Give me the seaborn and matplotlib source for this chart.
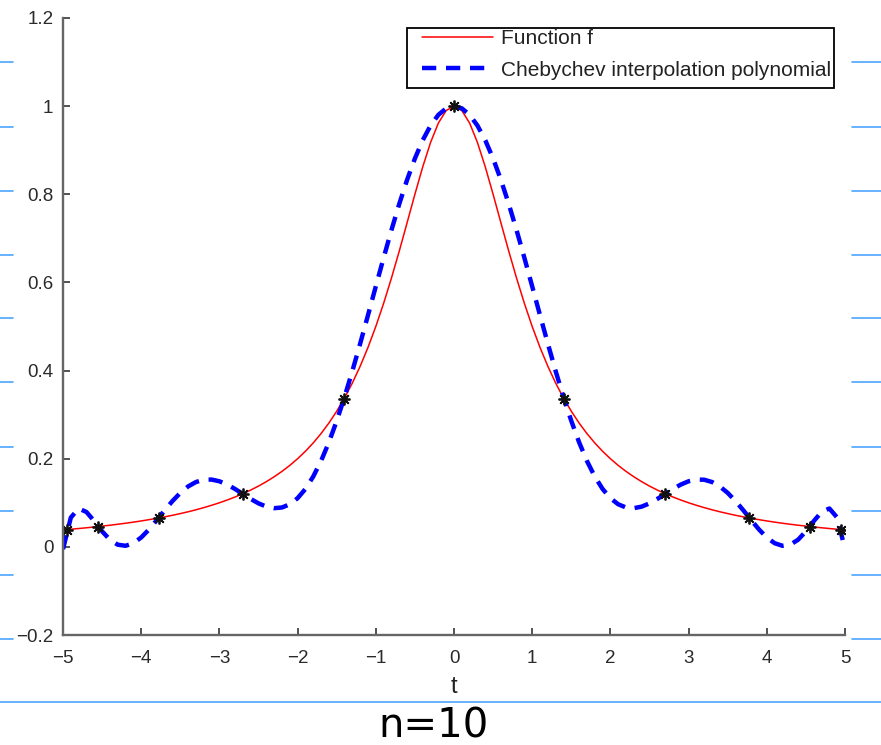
import numpy as np
import pandas as pd
import matplotlib
matplotlib.use("Agg")
import matplotlib.pyplot as plt
from matplotlib.lines import Line2D
from matplotlib.patches import Rectangle
import seaborn as sns

# sample positions on [-5, 5]
t = [-5.0, -4.9, -4.8, -4.7, -4.6, -4.5, -4.4, -4.3, -4.2, -4.1,
     -4.0, -3.9, -3.8, -3.7, -3.6, -3.5, -3.4, -3.3, -3.2, -3.1,
     -3.0, -2.9, -2.8, -2.7, -2.6, -2.5, -2.4, -2.3, -2.2, -2.1,
     -2.0, -1.9, -1.8, -1.7, -1.6, -1.5, -1.4, -1.3, -1.2, -1.1,
     -1.0, -0.9, -0.8, -0.7, -0.6, -0.5, -0.4, -0.3, -0.2, -0.1,
     0.0, 0.1, 0.2, 0.3, 0.4, 0.5, 0.6, 0.7, 0.8, 0.9,
     1.0, 1.1, 1.2, 1.3, 1.4, 1.5, 1.6, 1.7, 1.8, 1.9,
     2.0, 2.1, 2.2, 2.3, 2.4, 2.5, 2.6, 2.7, 2.8, 2.9,
     3.0, 3.1, 3.2, 3.3, 3.4, 3.5, 3.6, 3.7, 3.8, 3.9,
     4.0, 4.1, 4.2, 4.3, 4.4, 4.5, 4.6, 4.7, 4.8, 4.9, 5.0]

# function f
f_vals = [0.0385, 0.0400, 0.0416, 0.0433, 0.0451, 0.0471, 0.0491, 0.0513, 0.0536, 0.0561,
          0.0588, 0.0617, 0.0648, 0.0681, 0.0716, 0.0755, 0.0796, 0.0841, 0.0890, 0.0943,
          0.1000, 0.1063, 0.1131, 0.1206, 0.1289, 0.1379, 0.1479, 0.1590, 0.1712, 0.1848,
          0.2000, 0.2169, 0.2358, 0.2571, 0.2809, 0.3077, 0.3378, 0.3717, 0.4098, 0.4525,
          0.5000, 0.5525, 0.6098, 0.6711, 0.7353, 0.8000, 0.8621, 0.9174, 0.9615, 0.9901,
          1.0000,
          0.9901, 0.9615, 0.9174, 0.8621, 0.8000, 0.7353, 0.6711, 0.6098, 0.5525, 0.5000,
          0.4525, 0.4098, 0.3717, 0.3378, 0.3077, 0.2809, 0.2571, 0.2358, 0.2169, 0.2000,
          0.1848, 0.1712, 0.1590, 0.1479, 0.1379, 0.1289, 0.1206, 0.1131, 0.1063, 0.1000,
          0.0943, 0.0890, 0.0841, 0.0796, 0.0755, 0.0716, 0.0681, 0.0648, 0.0617, 0.0588,
          0.0561, 0.0536, 0.0513, 0.0491, 0.0471, 0.0451, 0.0433, 0.0416, 0.0400, 0.0385]

# Chebychev interpolation polynomial (n = 10)
p_vals = [-0.0053, 0.0664, 0.0871, 0.0791, 0.0583, 0.0352, 0.0162, 0.0049, 0.0024, 0.0083,
          0.0213, 0.0395, 0.0608, 0.0829, 0.1040, 0.1224, 0.1371, 0.1471, 0.1523, 0.1527,
          0.1488, 0.1413, 0.1313, 0.1200, 0.1087, 0.0987, 0.0913, 0.0878, 0.0893, 0.0966,
          0.1105, 0.1314, 0.1596, 0.1949, 0.2372, 0.2858, 0.3400, 0.3988, 0.4611, 0.5256,
          0.5910, 0.6559, 0.7187, 0.7781, 0.8327, 0.8812, 0.9226, 0.9559, 0.9802, 0.9950,
          1.0000,
          0.9950, 0.9802, 0.9559, 0.9226, 0.8812, 0.8327, 0.7781, 0.7187, 0.6559, 0.5910,
          0.5256, 0.4611, 0.3988, 0.3400, 0.2858, 0.2372, 0.1949, 0.1596, 0.1314, 0.1105,
          0.0966, 0.0893, 0.0878, 0.0913, 0.0987, 0.1087, 0.1200, 0.1313, 0.1413, 0.1488,
          0.1527, 0.1523, 0.1471, 0.1371, 0.1224, 0.1040, 0.0829, 0.0608, 0.0395, 0.0213,
          0.0083, 0.0024, 0.0049, 0.0162, 0.0352, 0.0583, 0.0791, 0.0871, 0.0664, -0.0053]

# Chebychev nodes and the values of f there
nodes_t = [-4.9491, -4.5482, -3.7787, -2.7032, -1.4087, 0.0,
           1.4087, 2.7032, 3.7787, 4.5482, 4.9491]
nodes_y = [0.0392, 0.0461, 0.0654, 0.1204, 0.3351, 1.0,
           0.3351, 0.1204, 0.0654, 0.0461, 0.0392]

x_ticks = [-5, -4, -3, -2, -1, 0, 1, 2, 3, 4, 5]
x_labels = ["\u22125", "\u22124", "\u22123", "\u22122", "\u22121", "0", "1", "2", "3", "4", "5"]
y_ticks = [-0.2, 0.0, 0.2, 0.4, 0.6, 0.8, 1.0, 1.2]
y_labels = ["\u22120.2", "0", "0.2", "0.4", "0.6", "0.8", "1", "1.2"]

sns.set_theme(style="white")
plt.rcParams["font.family"] = ["Liberation Sans", "DejaVu Sans"]

W, H = 881, 745
fig = plt.figure(figsize=(W / 100, H / 100), dpi=100)
fig.patch.set_facecolor("white")
ax = fig.add_axes([63 / W, 1 - 635 / H, 782 / W, 617 / H])
ax.set_facecolor("white")

df = pd.DataFrame({"t": t, "f": f_vals, "p": p_vals})
sns.lineplot(data=df, x="t", y="f", ax=ax, color="#ff0000", linewidth=1.1,
             label="Function f", sort=False)
sns.lineplot(data=df, x="t", y="p", ax=ax, color="#0000ff", linewidth=3.2,
             linestyle=(0, (3.2, 2.2)), dash_capstyle="butt",
             label="Chebychev interpolation polynomial", sort=False)
sns.lineplot(x=nodes_t, y=nodes_y, ax=ax, color="black", linestyle="",
             marker=(8, 2, 0), markersize=8.5, markeredgewidth=1.3,
             markeredgecolor="#111111", sort=False, label="_nolegend_")

ax.set_xlim(-5, 5)
ax.set_ylim(-0.2, 1.2)
ax.set_xticks(x_ticks)
ax.set_xticklabels(x_labels)
ax.set_yticks(y_ticks)
ax.set_yticklabels(y_labels)
ax.set_xlabel("t", fontsize=17, color="#222222", labelpad=6)
ax.set_ylabel("")

for side in ("top", "right"):
    ax.spines[side].set_visible(False)
for side in ("left", "bottom"):
    ax.spines[side].set_color("#666666")
    ax.spines[side].set_linewidth(1.7)

ax.tick_params(axis="both", which="major", bottom=True, left=True, top=False, right=False,
               direction="in", length=5, width=1.3, color="#444444",
               labelcolor="#2a2a2a", labelsize=13.5)
ax.tick_params(axis="x", pad=11)
ax.tick_params(axis="y", pad=7)

# legend entries without the automatic frame; the box is drawn separately
leg = ax.legend(loc="upper left", bbox_to_anchor=(422 / W, 1 - 29 / H),
                bbox_transform=fig.transFigure, fontsize=15, frameon=False,
                borderpad=0, handlelength=3.4, handletextpad=0.38,
                labelspacing=0.6, borderaxespad=0)
for txt in leg.get_texts():
    txt.set_color("#222222")
fig.add_artist(Rectangle((407 / W, 1 - 88 / H), 427 / W, 60 / H,
                         transform=fig.transFigure, fill=False,
                         edgecolor="black", linewidth=1.3, zorder=5))

# ruled notebook lines around the chart
rule_color = "#4da6ff"
rule_rows = [62, 127, 191, 255, 318, 382, 447, 511, 575, 639]
for yy in rule_rows:
    fig.add_artist(Line2D([0, 13 / W], [1 - yy / H, 1 - yy / H], color=rule_color, lw=1.2))
    fig.add_artist(Line2D([852 / W, 1], [1 - yy / H, 1 - yy / H], color=rule_color, lw=1.2))
fig.add_artist(Line2D([0, 1], [1 - 702 / H, 1 - 702 / H], color=rule_color, lw=1.2))

# handwritten note under the axis
fig.text(433 / W, 1 - 726 / H, "n=10", fontsize=29, color="black", ha="center",
         va="center", family=["DejaVu Sans"])

fig.savefig("out.png", dpi=100)
